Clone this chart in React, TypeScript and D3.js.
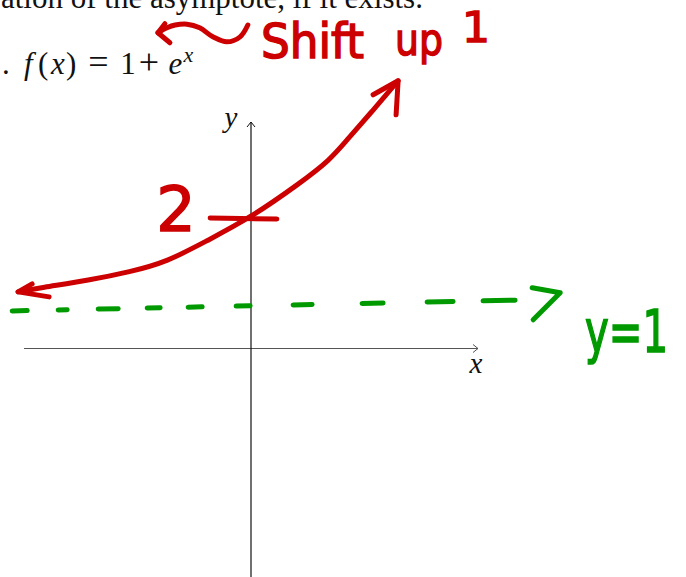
import * as d3 from "d3";

// hand-drawn curve of f(x) = 1 + e^x (data units)
const curveX = [-5.13, -4.65, -3.55, -2.67, -1.85, -0.97, -0.02, 1.08, 1.74, 2.11, 2.69, 3.24];
const curveY = [1.25, 1.34, 1.51, 1.69, 1.91, 2.38, 2.88, 3.65, 4.16, 4.6, 5.26, 5.91];

// asymptote y = 1 as drawn (slightly tilted by hand)
const asymptoteValue = 1;
const asymptoteX = [-5.26, 5.93];
const asymptoteY = [0.83, 1.07];
const asymptoteTip = [6.81, 1.23];

// y-intercept mark
const interceptValue = 2;
const interceptMarkX = [-0.9, 0.57];
const interceptMarkY = 2.88;

// squiggly arrow pointing at the formula
const squiggleX = [-0.07, -0.24, -0.53, -0.84, -1.13, -1.41, -1.67, -1.85, -2.05];
const squiggleY = [7.14, 6.88, 6.77, 6.88, 7.08, 7.16, 7.14, 7.08, 6.97];

const axisX = [-5, 5];
const axisY = [-5.05, 5];

const RED = "#cc0000";
const GREEN = "#009a00";
const HAND = "'DejaVu Sans', sans-serif";
const SERIF = "'Liberation Serif', 'Times New Roman', serif";

const width = 686;
const height = 577;

export default function App() {
  const x = d3.scaleLinear().domain([-5, 5]).range([24, 478]);
  const y = d3.scaleLinear().domain([-5, 5]).range([575, 122]);

  const smooth = d3
    .line<[number, number]>()
    .x((d) => x(d[0]))
    .y((d) => y(d[1]))
    .curve(d3.curveBasis);

  const wavy = d3
    .line<[number, number]>()
    .x((d) => x(d[0]))
    .y((d) => y(d[1]))
    .curve(d3.curveCatmullRom.alpha(0.5));

  const curvePts = curveX.map((v, i) => [v, curveY[i]] as [number, number]);
  const squigglePts = squiggleX.map((v, i) => [v, squiggleY[i]] as [number, number]);

  // arrowhead tips
  const leftTip = [x(curveX[0]), y(curveY[0])];
  const topTip = [x(curveX[curveX.length - 1]), y(curveY[curveY.length - 1])];
  const sqTip = [x(squiggleX[squiggleX.length - 1]), y(squiggleY[squiggleY.length - 1])];
  const grTip = [x(asymptoteTip[0]), y(asymptoteTip[1])];

  const headPath = (tip: number[], a: number[], b: number[]) =>
    `M${tip[0] + a[0]},${tip[1] + a[1]}L${tip[0]},${tip[1]}L${tip[0] + b[0]},${tip[1] + b[1]}`;

  const x0 = x(0);
  const y0 = y(0);

  return (
    <svg
      width={width}
      height={height}
      viewBox={`0 0 ${width} ${height}`}
      style={{ position: "absolute", left: 0, top: 0, display: "block", background: "#fff" }}
    >
      {/* text of the exercise */}
      <text x={1} y={8} fontFamily={SERIF} fontSize={31} fill="#111">
        ation of the asymptote, if it exists.
      </text>
      <g fontFamily={SERIF} fontSize={31} fill="#111">
        <text x={2} y={74}>.</text>
        <text x={24} y={74} fontStyle="italic">f</text>
        <text x={38} y={74}>(</text>
        <text x={51} y={74} fontStyle="italic">x</text>
        <text x={66} y={74}>)</text>
        <text x={98.5} y={74} textAnchor="middle" fontSize={36}>=</text>
        <text x={128} y={74} textAnchor="middle">1</text>
        <text x={149} y={74} textAnchor="middle" fontSize={36}>+</text>
        <text x={175.5} y={74} textAnchor="middle" fontStyle="italic">e</text>
        <text x={188.5} y={62} textAnchor="middle" fontStyle="italic" fontSize={22}>x</text>
      </g>

      {/* axes */}
      <line x1={x(axisX[0])} x2={x(axisX[1])} y1={y0} y2={y0} stroke="#555" strokeWidth={1.2} />
      <path d={headPath([x(axisX[1]), y0], [-5, -4], [-5, 4])} fill="none" stroke="#555" strokeWidth={1} />
      <line x1={x0} x2={x0} y1={y(axisY[1])} y2={y(axisY[0]) + 4} stroke="#111" strokeWidth={1.2} />
      <path d={headPath([x0, y(axisY[1])], [-4, 5], [4, 5])} fill="none" stroke="#111" strokeWidth={1} />
      <text x={476} y={373} textAnchor="middle" fontFamily={SERIF} fontStyle="italic" fontSize={29} fill="#111">
        x
      </text>
      <text x={231} y={127} textAnchor="middle" fontFamily={SERIF} fontStyle="italic" fontSize={29} fill="#111">
        y
      </text>

      {/* hand-drawn asymptote */}
      <g stroke={GREEN} strokeWidth={5} strokeLinecap="round" strokeLinejoin="round" fill="none">
        <line
          x1={x(asymptoteX[0])}
          y1={y(asymptoteY[0])}
          x2={x(asymptoteX[1])}
          y2={y(asymptoteY[1])}
          strokeDasharray="15 31 9 31 20 29 13 28 14 34 14 43 19 50 21 44 26 30 32"
        />
        <path d={headPath(grTip, [-28, -5], [-27, 27])} />
      </g>
      <text
        transform="translate(585,352) scale(1,1.26)"
        textLength={83}
        lengthAdjust="spacingAndGlyphs"
        fontFamily={HAND}
        fontSize={46}
        fill={GREEN}
        stroke={GREEN}
        strokeWidth={1.3}
      >
        {`y=${asymptoteValue}`}
      </text>

      {/* hand-drawn curve */}
      <g stroke={RED} strokeWidth={5} strokeLinecap="round" strokeLinejoin="round" fill="none">
        <path d={smooth(curvePts) ?? ""} />
        <path d={headPath(leftTip, [14, -8], [31, 5])} />
        <path d={headPath(topTip, [-25, 14], [-2, 34])} />
        <line
          x1={x(interceptMarkX[0])}
          x2={x(interceptMarkX[1])}
          y1={y(interceptMarkY)}
          y2={y(interceptMarkY) + 1}
        />
        <path d={wavy(squigglePts) ?? ""} />
        <path d={headPath(sqTip, [7, -9], [12, 10])} />
      </g>
      <text
        x={176}
        y={231}
        textAnchor="middle"
        fontFamily={HAND}
        fontSize={62}
        fill={RED}
        stroke={RED}
        strokeWidth={1.5}
      >
        {interceptValue}
      </text>

      {/* "Shift up 1" note */}
      <g fontFamily={HAND} fill={RED} stroke={RED} strokeWidth={1.5}>
        <text x={261} y={58} fontSize={48} textLength={103} lengthAdjust="spacingAndGlyphs">
          Shift
        </text>
        <text x={395} y={55} fontSize={44} textLength={48} lengthAdjust="spacingAndGlyphs">
          up
        </text>
        <text x={462} y={42} fontSize={42} textLength={28} lengthAdjust="spacingAndGlyphs">
          1
        </text>
      </g>
    </svg>
  );
}
